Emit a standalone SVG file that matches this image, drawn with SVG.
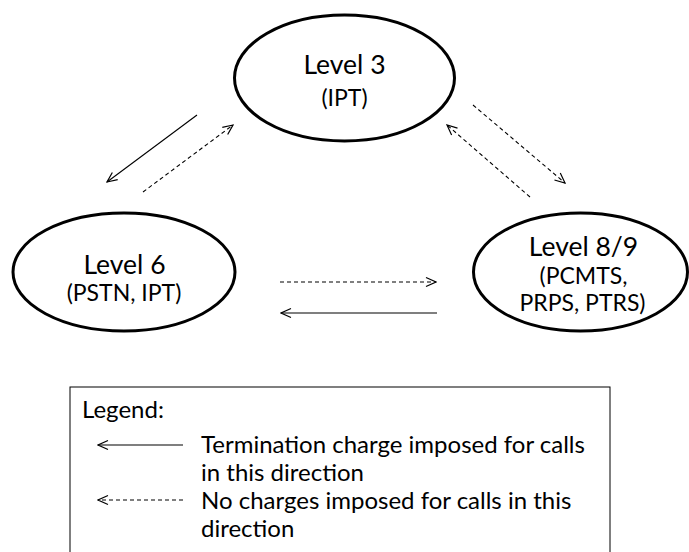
<svg xmlns="http://www.w3.org/2000/svg" width="689" height="552" viewBox="0 0 689 552">
  <style>
    .node { fill: #ffffff; stroke: #000000; stroke-width: 3; }
    .title { font-family: Lato, "Open Sans", sans-serif; font-size: 26.5px; fill: #000; text-anchor: middle; }
    .sub { font-family: Lato, "Open Sans", sans-serif; font-size: 23px; fill: #000; text-anchor: middle; }
    .conn { fill: none; stroke: #000; stroke-width: 1.1; }
    .solid { marker-end: url(#arrow); }
    .dashed { stroke-dasharray: 4 3; marker-end: url(#arrow); }
    .legend-box { fill: #fff; stroke: #000; stroke-width: 1; }
    .legend-text { font-family: Lato, "Open Sans", sans-serif; font-size: 24px; fill: #000; }
  </style>
  <defs>
    <marker id="arrow" viewBox="0 0 12 12" refX="11" refY="6" markerWidth="12" markerHeight="12" markerUnits="userSpaceOnUse" orient="auto">
      <path d="M1,1.5 L11,6 L1,10.5" fill="none" stroke="#000" stroke-width="1.2" stroke-dasharray="none"/>
    </marker>
  </defs>

  <rect width="689" height="552" fill="#ffffff"/>

  <!-- connectors between levels -->
  <g id="connectors">
    <line class="conn solid" x1="197" y1="115" x2="107" y2="182"/>
    <line class="conn dashed" x1="143" y1="192" x2="233" y2="125"/>
    <line class="conn dashed" x1="473" y1="105" x2="565" y2="183"/>
    <line class="conn dashed" x1="530" y1="197" x2="447" y2="125"/>
    <line class="conn dashed" x1="280" y1="282" x2="436" y2="282"/>
    <line class="conn solid" x1="437" y1="313" x2="281" y2="313"/>
  </g>

  <g id="level3">
    <ellipse class="node" cx="344.5" cy="78" rx="110" ry="63"/>
    <text class="title" x="344.5" y="74">Level 3</text>
    <text class="sub" x="344.5" y="106">(IPT)</text>
  </g>

  <g id="level6">
    <ellipse class="node" cx="124" cy="272" rx="111" ry="59"/>
    <text class="title" x="124.5" y="274">Level 6</text>
    <text class="sub" x="124" y="301">(PSTN, IPT)</text>
  </g>

  <g id="level89">
    <ellipse class="node" cx="580.5" cy="272" rx="107" ry="59"/>
    <text class="title" x="583.5" y="256">Level 8/9</text>
    <text class="sub" x="583.5" y="284">(PCMTS,</text>
    <text class="sub" x="582.5" y="311">PRPS, PTRS)</text>
  </g>

  <g id="legend">
    <rect class="legend-box" x="70" y="387" width="540" height="180"/>
    <text class="legend-text" x="82" y="418">Legend:</text>
    <line class="conn solid" x1="183" y1="445" x2="98" y2="445"/>
    <text class="legend-text" x="201" y="453">Termination charge imposed for calls</text>
    <text class="legend-text" x="201" y="481">in this direction</text>
    <line class="conn dashed" x1="183" y1="500" x2="98" y2="500"/>
    <text class="legend-text" x="201" y="509">No charges imposed for calls in this</text>
    <text class="legend-text" x="201" y="537">direction</text>
  </g>
</svg>
